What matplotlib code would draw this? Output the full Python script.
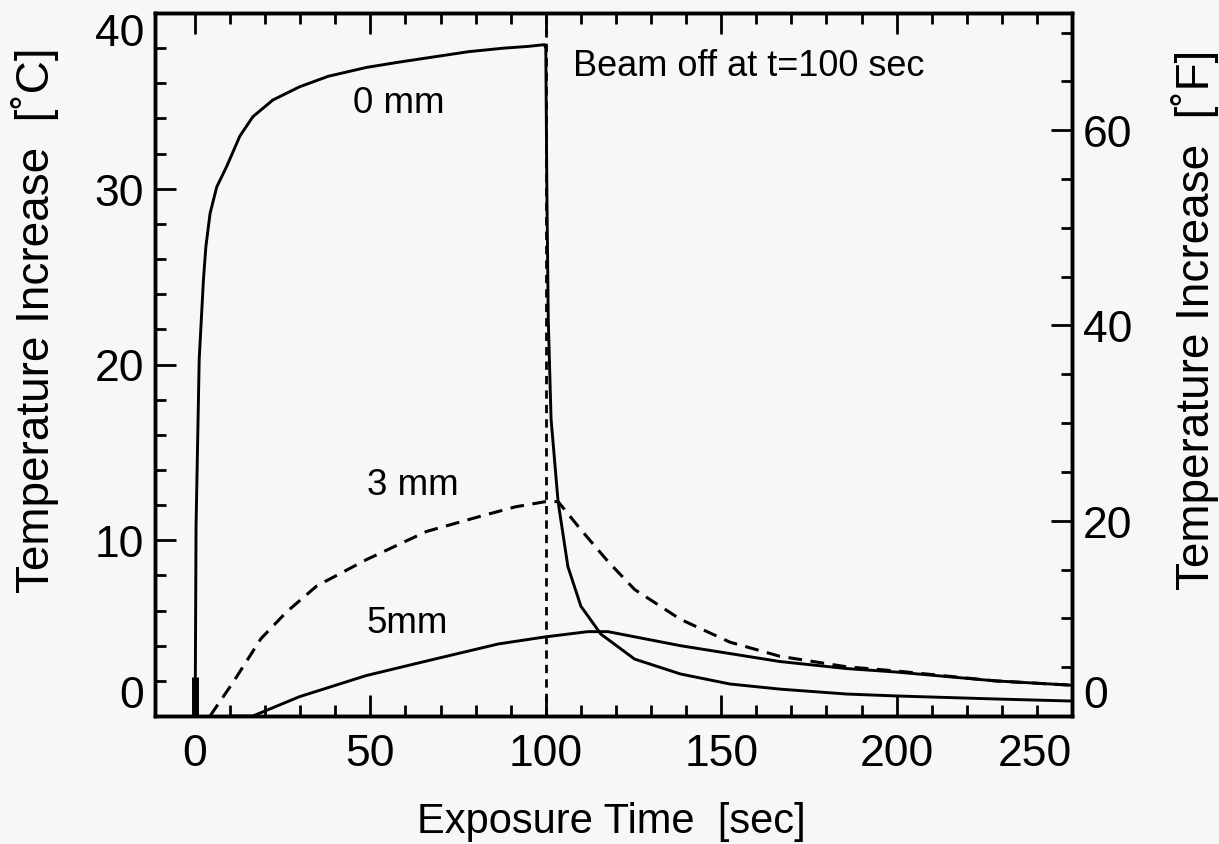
import matplotlib
matplotlib.use('Agg')
import matplotlib.pyplot as plt

plt.rcParams['font.family'] = ['Liberation Sans', 'DejaVu Sans']

# ---- data ----
t_0mm = [0.1, 0.3, 1.2, 2.4, 3.1, 4.3, 6.2, 9.1, 12.8, 16.5, 22.2, 29.8, 38, 48.8, 58,
         68, 78, 88, 95, 99.6, 100.0, 100.3, 100.7, 101.5, 103.5, 106.3, 110, 115.7,
         125.3, 138.4, 152.5, 166.7, 185.7, 200, 228, 250]
T_0mm = [2.2, 10.8, 20.3, 24.8, 26.7, 28.6, 30.1, 31.3, 33.0, 34.1, 35.05, 35.8,
         36.4, 36.9, 37.2, 37.5, 37.8, 38.0, 38.1, 38.2, 38.0, 30.0, 22.6, 16.9, 12.2,
         8.5, 6.25, 4.66, 3.24, 2.39, 1.82, 1.53, 1.25, 1.14, 0.97, 0.85]

t_start = [0, 0]          # thick start segment of 0 mm curve
T_start = [0, 2.2]

t_3mm = [4.3, 10.8, 18.8, 26, 34.7, 48.9, 66, 82, 91.3, 100, 103.5, 110, 117.7,
         125.3, 138.4, 152.5, 166.7, 185.7, 200, 228, 250]
T_3mm = [0, 1.9, 4.4, 5.9, 7.4, 8.9, 10.5, 11.4, 11.9, 12.2, 12.2, 10.6, 8.8,
         7.2, 5.5, 4.2, 3.4, 2.8, 2.56, 2.0, 1.75]

t_5mm = [10, 16.5, 29.8, 48.8, 67.5, 86.5, 99.8, 112, 117.7, 138.4, 166.7, 185.7,
         200, 228, 250]
T_5mm = [0, 0, 1.1, 2.3, 3.2, 4.1, 4.5, 4.8, 4.8, 4.0, 3.1, 2.7, 2.5, 2.0, 1.75]

beam_off = 100

x_ticks = [0, 50, 100, 150, 200, 250]
y_ticks_c = [0, 10, 20, 30, 40]
y_ticks_f = [0, 20, 40, 60]

bg = '#f7f7f7'
fig = plt.figure(figsize=(12.19, 8.45), dpi=100, facecolor=bg)
ax = fig.add_axes([155/1219, 1-717/845, (1072-155)/1219, (717-14)/845])
ax.set_facecolor(bg)

ax.plot(t_0mm, T_0mm, color='k', lw=2.1)
ax.plot(t_start, T_start, color='k', lw=5, solid_capstyle='butt')
ax.plot(t_3mm, T_3mm, color='k', lw=2.2, dashes=(4.5, 2.8))
ax.plot(t_5mm, T_5mm, color='k', lw=2.1)
ax.axvline(beam_off, color='k', lw=2.0, dashes=(3.0, 2.2))

ax.set_xlim(-11.4, 250)
ax.set_ylim(0, 40)
ax.set_xticks(x_ticks)
ax.set_xticks(range(0, 251, 10), minor=True)
ax.set_yticks(y_ticks_c)
ax.set_yticks(range(0, 41, 2), minor=True)

for sp in ax.spines.values():
    sp.set_linewidth(2.5)

ax.tick_params(which='both', direction='in', top=True, right=False, width=2,
               labelsize=32)
ax.tick_params(which='major', length=15)
ax.tick_params(which='minor', length=8)
ax.tick_params(axis='x', pad=12)
ax.tick_params(axis='y', pad=8)

ax2 = ax.twinx()
ax2.set_ylim(0, 40 * 1.8)
ax2.set_yticks(y_ticks_f)
ax2.set_yticks(range(0, 73, 5), minor=True)
ax2.tick_params(which='both', direction='in', width=2, labelsize=32, pad=8)
ax2.tick_params(which='major', length=15)
ax2.tick_params(which='minor', length=8)
for sp in ax2.spines.values():
    sp.set_linewidth(2.5)

# label alignment tweaks at the ends
ax.yaxis.get_major_ticks()[0].label1.set_va('bottom')
ax.yaxis.get_major_ticks()[-1].label1.set_va('top')
ax.xaxis.get_major_ticks()[-1].label1.set_ha('right')
ax2.yaxis.get_major_ticks()[0].label2.set_va('bottom')

ax.set_xlabel('Exposure Time  [sec]', fontsize=30)
ax.xaxis.set_label_coords(0.498, -0.149)
ax.xaxis.label.set_va('center')
ax.set_ylabel('Temperature Increase  [˚C]', fontsize=33)
ax.yaxis.set_label_coords(-0.131, 0.565)
ax.yaxis.label.set_va('center')
ax2.set_ylabel('Temperature Increase  [˚F]', fontsize=33, rotation=90)
ax2.yaxis.set_label_coords(1.134, 0.565)
ax2.yaxis.label.set_va('center')

ax.text(107.7, 37.0, 'Beam off at t=100 sec', fontsize=26, va='center', ha='left')
ax.text(45, 34.9, '0 mm', fontsize=26.5, va='center', ha='left')
ax.text(49, 13.2, '3 mm', fontsize=26.5, va='center', ha='left')
ax.text(49, 5.3, '5mm', fontsize=26.5, va='center', ha='left')

fig.savefig('out.png', dpi=100, facecolor=bg)
